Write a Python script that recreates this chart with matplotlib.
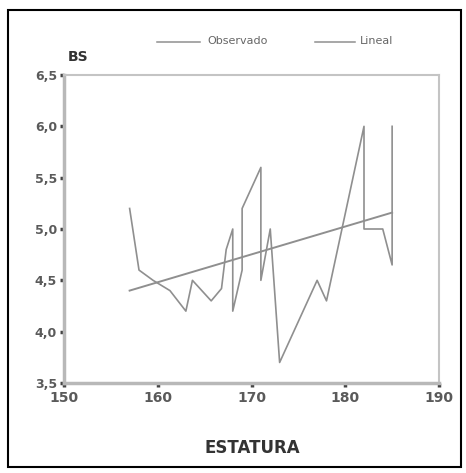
import matplotlib
matplotlib.use("Agg")
import matplotlib.pyplot as plt
from matplotlib.patches import Rectangle
from matplotlib.lines import Line2D

estatura = [157, 158, 159.5, 161.3, 163, 163.7, 165.7, 166.8, 167.3, 168,
            168, 169, 169, 171, 171, 172, 173, 177, 178, 182,
            182, 184, 185, 185]
bs = [5.2, 4.6, 4.5, 4.4, 4.2, 4.5, 4.3, 4.42, 4.8, 5.0,
      4.2, 4.6, 5.2, 5.6, 4.5, 5.0, 3.7, 4.5, 4.3, 6.0,
      5.0, 5.0, 4.65, 6.0]

# Linear fit endpoints
lineal_x = [157, 185]
lineal_y = [4.40, 5.16]

xticks = [150, 160, 170, 180, 190]
yticks = [3.5, 4.0, 4.5, 5.0, 5.5, 6.0, 6.5]
ytick_labels = ['3,5', '4,0', '4,5', '5,0', '5,5', '6,0', '6,5']

LINE_GRAY = '#8f8f8f'
TEXT_GRAY = '#5a5a5a'

fig = plt.figure(figsize=(4.66, 4.73), dpi=100)
fig.patch.set_facecolor('white')

# outer frame
fig.patches.append(Rectangle((8 / 466, 6 / 473), 453 / 466, 457 / 473,
                             transform=fig.transFigure, fill=False,
                             edgecolor='black', linewidth=1.5))

ax = fig.add_axes([64 / 466, 90 / 473, 375 / 466, 308 / 473])
ax.plot(estatura, bs, color=LINE_GRAY, linewidth=1.2)
ax.plot(lineal_x, lineal_y, color=LINE_GRAY, linewidth=1.4)

ax.set_xlim(150, 190)
ax.set_ylim(3.5, 6.5)
ax.set_xticks(xticks)
ax.set_yticks(yticks)
ax.set_yticklabels(ytick_labels)

for s in ['left', 'bottom']:
    ax.spines[s].set_color('#b8b8b8')
    ax.spines[s].set_linewidth(2.5)
for s in ['top', 'right']:
    ax.spines[s].set_color('#c4c4c4')
    ax.spines[s].set_linewidth(1.5)

ax.tick_params(axis='x', length=3, width=2.5, color='#444444', pad=3,
               labelsize=10, labelcolor=TEXT_GRAY)
ax.tick_params(axis='y', length=3, width=2.5, color='#444444', pad=2,
               labelsize=9, labelcolor=TEXT_GRAY)
for lab in ax.get_xticklabels() + ax.get_yticklabels():
    lab.set_fontweight('bold')

fig.text(252 / 466, 1 - 448 / 473, 'ESTATURA', ha='center', va='center',
         fontsize=12, fontweight='bold', color='#333333')
fig.text(68 / 466, 1 - 57 / 473, 'BS', ha='left', va='center',
         fontsize=10, fontweight='bold', color='#333333')

# legend on top
fig.add_artist(Line2D([157 / 466, 200 / 466], [1 - 42 / 473, 1 - 42 / 473],
                      transform=fig.transFigure, color=LINE_GRAY, linewidth=1.1))
fig.text(207 / 466, 1 - 41 / 473, 'Observado', ha='left', va='center',
         fontsize=8, color='#666666')
fig.add_artist(Line2D([315 / 466, 355 / 466], [1 - 42 / 473, 1 - 42 / 473],
                      transform=fig.transFigure, color=LINE_GRAY, linewidth=1.1))
fig.text(360 / 466, 1 - 41 / 473, 'Lineal', ha='left', va='center',
         fontsize=8, color='#666666')

plt.savefig('out.png', dpi=100)
plt.close()
